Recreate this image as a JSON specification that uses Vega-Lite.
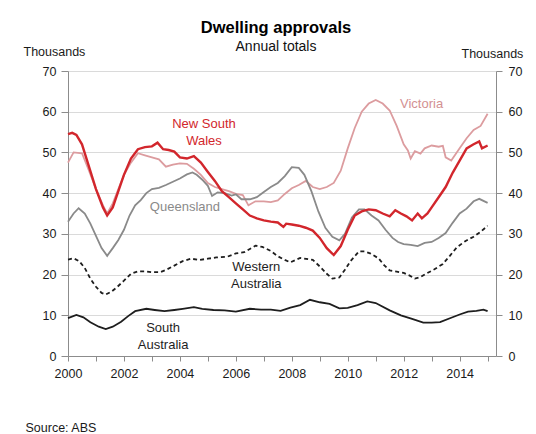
{
  "$schema": "https://vega.github.io/schema/vega-lite/v6.json",
  "width": 428,
  "height": 285,
  "autosize": {"type": "none"},
  "padding": {"left": 68, "top": 71, "right": 40, "bottom": 78},
  "background": "white",
  "title": {
    "text": "Dwelling approvals",
    "subtitle": "Annual totals",
    "anchor": "middle",
    "frame": "group",
    "dx": -6,
    "dy": 26,
    "offset": 17,
    "fontSize": 16.5,
    "fontWeight": "bold",
    "color": "#000000",
    "subtitleFontSize": 14,
    "subtitleColor": "#111111",
    "subtitlePadding": 4,
    "font": "Liberation Sans",
    "subtitleFont": "Liberation Sans"
  },
  "datasets": {
    "series": [
      {"s":"NSW","x":2000.0,"y":54.5},{"s":"NSW","x":2000.15,"y":54.8},{"s":"NSW","x":2000.3,"y":54.3},{"s":"NSW","x":2000.5,"y":52},{"s":"NSW","x":2000.75,"y":46.5},{"s":"NSW","x":2001.0,"y":41},{"s":"NSW","x":2001.25,"y":36.5},{"s":"NSW","x":2001.4,"y":34.5},{"s":"NSW","x":2001.6,"y":36.5},{"s":"NSW","x":2001.8,"y":40.5},{"s":"NSW","x":2002.0,"y":44.5},{"s":"NSW","x":2002.25,"y":48.5},{"s":"NSW","x":2002.5,"y":50.8},{"s":"NSW","x":2002.75,"y":51.3},{"s":"NSW","x":2003.0,"y":51.5},{"s":"NSW","x":2003.2,"y":52.4},{"s":"NSW","x":2003.4,"y":50.8},{"s":"NSW","x":2003.6,"y":50.6},{"s":"NSW","x":2003.8,"y":50.2},{"s":"NSW","x":2004.0,"y":48.8},{"s":"NSW","x":2004.25,"y":48.5},{"s":"NSW","x":2004.5,"y":49.1},{"s":"NSW","x":2004.75,"y":47.5},{"s":"NSW","x":2005.0,"y":45.2},{"s":"NSW","x":2005.25,"y":43},{"s":"NSW","x":2005.5,"y":40.5},{"s":"NSW","x":2005.75,"y":39},{"s":"NSW","x":2006.0,"y":37.5},{"s":"NSW","x":2006.25,"y":36},{"s":"NSW","x":2006.5,"y":34.5},{"s":"NSW","x":2006.75,"y":33.8},{"s":"NSW","x":2007.0,"y":33.3},{"s":"NSW","x":2007.25,"y":33},{"s":"NSW","x":2007.5,"y":32.8},{"s":"NSW","x":2007.7,"y":31.7},{"s":"NSW","x":2007.8,"y":32.5},{"s":"NSW","x":2008.0,"y":32.3},{"s":"NSW","x":2008.25,"y":32},{"s":"NSW","x":2008.5,"y":31.5},{"s":"NSW","x":2008.75,"y":30.8},{"s":"NSW","x":2009.0,"y":29},{"s":"NSW","x":2009.25,"y":26.5},{"s":"NSW","x":2009.5,"y":24.8},{"s":"NSW","x":2009.75,"y":27},{"s":"NSW","x":2010.0,"y":31},{"s":"NSW","x":2010.25,"y":34.5},{"s":"NSW","x":2010.5,"y":35.5},{"s":"NSW","x":2010.75,"y":36},{"s":"NSW","x":2011.0,"y":35.8},{"s":"NSW","x":2011.25,"y":35},{"s":"NSW","x":2011.5,"y":34.3},{"s":"NSW","x":2011.7,"y":35.8},{"s":"NSW","x":2011.9,"y":35},{"s":"NSW","x":2012.1,"y":34.3},{"s":"NSW","x":2012.3,"y":33.3},{"s":"NSW","x":2012.5,"y":35},{"s":"NSW","x":2012.65,"y":33.8},{"s":"NSW","x":2012.85,"y":35},{"s":"NSW","x":2013.0,"y":36.5},{"s":"NSW","x":2013.25,"y":39},{"s":"NSW","x":2013.5,"y":41.5},{"s":"NSW","x":2013.75,"y":45},{"s":"NSW","x":2014.0,"y":48},{"s":"NSW","x":2014.25,"y":51},{"s":"NSW","x":2014.5,"y":52},{"s":"NSW","x":2014.7,"y":52.7},{"s":"NSW","x":2014.8,"y":51},{"s":"NSW","x":2015.0,"y":51.7},
      {"s":"VIC","x":2000.0,"y":47.5},{"s":"VIC","x":2000.2,"y":50},{"s":"VIC","x":2000.5,"y":49.8},{"s":"VIC","x":2000.75,"y":45.5},{"s":"VIC","x":2001.0,"y":41},{"s":"VIC","x":2001.25,"y":37},{"s":"VIC","x":2001.4,"y":35},{"s":"VIC","x":2001.6,"y":37.5},{"s":"VIC","x":2001.8,"y":41},{"s":"VIC","x":2002.0,"y":44.5},{"s":"VIC","x":2002.25,"y":47.5},{"s":"VIC","x":2002.5,"y":49.8},{"s":"VIC","x":2002.75,"y":49.3},{"s":"VIC","x":2003.0,"y":48.8},{"s":"VIC","x":2003.25,"y":48.3},{"s":"VIC","x":2003.5,"y":46.5},{"s":"VIC","x":2003.75,"y":47},{"s":"VIC","x":2004.0,"y":47.3},{"s":"VIC","x":2004.25,"y":47.2},{"s":"VIC","x":2004.5,"y":46},{"s":"VIC","x":2004.75,"y":44.5},{"s":"VIC","x":2005.0,"y":42.5},{"s":"VIC","x":2005.25,"y":41.5},{"s":"VIC","x":2005.5,"y":41},{"s":"VIC","x":2005.75,"y":40.5},{"s":"VIC","x":2006.0,"y":39.8},{"s":"VIC","x":2006.25,"y":39.5},{"s":"VIC","x":2006.45,"y":37},{"s":"VIC","x":2006.7,"y":38},{"s":"VIC","x":2007.0,"y":38},{"s":"VIC","x":2007.25,"y":37.8},{"s":"VIC","x":2007.5,"y":38.2},{"s":"VIC","x":2007.75,"y":39.8},{"s":"VIC","x":2008.0,"y":41.2},{"s":"VIC","x":2008.25,"y":42},{"s":"VIC","x":2008.5,"y":43},{"s":"VIC","x":2008.75,"y":41.5},{"s":"VIC","x":2009.0,"y":41},{"s":"VIC","x":2009.25,"y":41.5},{"s":"VIC","x":2009.5,"y":42.5},{"s":"VIC","x":2009.75,"y":45.5},{"s":"VIC","x":2010.0,"y":51},{"s":"VIC","x":2010.25,"y":56},{"s":"VIC","x":2010.5,"y":60},{"s":"VIC","x":2010.75,"y":62},{"s":"VIC","x":2011.0,"y":62.9},{"s":"VIC","x":2011.25,"y":62},{"s":"VIC","x":2011.5,"y":60.3},{"s":"VIC","x":2011.75,"y":56.5},{"s":"VIC","x":2012.0,"y":52},{"s":"VIC","x":2012.15,"y":50.5},{"s":"VIC","x":2012.25,"y":48.5},{"s":"VIC","x":2012.4,"y":50.3},{"s":"VIC","x":2012.6,"y":49.7},{"s":"VIC","x":2012.75,"y":51},{"s":"VIC","x":2013.0,"y":51.7},{"s":"VIC","x":2013.25,"y":51.4},{"s":"VIC","x":2013.4,"y":51.6},{"s":"VIC","x":2013.5,"y":48.8},{"s":"VIC","x":2013.7,"y":48},{"s":"VIC","x":2014.0,"y":51},{"s":"VIC","x":2014.25,"y":53.5},{"s":"VIC","x":2014.5,"y":55.5},{"s":"VIC","x":2014.75,"y":56.5},{"s":"VIC","x":2015.0,"y":59.5},
      {"s":"QLD","x":2000.0,"y":33},{"s":"QLD","x":2000.2,"y":35},{"s":"QLD","x":2000.38,"y":36.3},{"s":"QLD","x":2000.6,"y":35},{"s":"QLD","x":2000.8,"y":32.5},{"s":"QLD","x":2001.0,"y":29.5},{"s":"QLD","x":2001.2,"y":26.5},{"s":"QLD","x":2001.4,"y":24.6},{"s":"QLD","x":2001.6,"y":26.5},{"s":"QLD","x":2001.8,"y":28.5},{"s":"QLD","x":2002.0,"y":31},{"s":"QLD","x":2002.2,"y":34.5},{"s":"QLD","x":2002.4,"y":37},{"s":"QLD","x":2002.6,"y":38.3},{"s":"QLD","x":2002.8,"y":40},{"s":"QLD","x":2003.0,"y":41},{"s":"QLD","x":2003.25,"y":41.3},{"s":"QLD","x":2003.5,"y":42},{"s":"QLD","x":2003.75,"y":42.8},{"s":"QLD","x":2004.0,"y":43.6},{"s":"QLD","x":2004.25,"y":44.6},{"s":"QLD","x":2004.45,"y":45.1},{"s":"QLD","x":2004.6,"y":44.5},{"s":"QLD","x":2004.8,"y":43.3},{"s":"QLD","x":2005.0,"y":41.8},{"s":"QLD","x":2005.15,"y":39.3},{"s":"QLD","x":2005.35,"y":40.2},{"s":"QLD","x":2005.6,"y":40},{"s":"QLD","x":2005.85,"y":39.4},{"s":"QLD","x":2006.0,"y":39.7},{"s":"QLD","x":2006.2,"y":38.5},{"s":"QLD","x":2006.5,"y":38.5},{"s":"QLD","x":2006.75,"y":39},{"s":"QLD","x":2007.0,"y":40.3},{"s":"QLD","x":2007.25,"y":41.5},{"s":"QLD","x":2007.5,"y":42.5},{"s":"QLD","x":2007.75,"y":44.2},{"s":"QLD","x":2008.0,"y":46.4},{"s":"QLD","x":2008.25,"y":46.2},{"s":"QLD","x":2008.45,"y":44.5},{"s":"QLD","x":2008.7,"y":40.5},{"s":"QLD","x":2008.95,"y":35.5},{"s":"QLD","x":2009.2,"y":31.5},{"s":"QLD","x":2009.45,"y":29.3},{"s":"QLD","x":2009.7,"y":28.4},{"s":"QLD","x":2009.9,"y":30},{"s":"QLD","x":2010.15,"y":34},{"s":"QLD","x":2010.4,"y":36},{"s":"QLD","x":2010.6,"y":36},{"s":"QLD","x":2010.85,"y":34.5},{"s":"QLD","x":2011.1,"y":33.3},{"s":"QLD","x":2011.35,"y":31},{"s":"QLD","x":2011.6,"y":29},{"s":"QLD","x":2011.8,"y":28},{"s":"QLD","x":2012.0,"y":27.5},{"s":"QLD","x":2012.25,"y":27.3},{"s":"QLD","x":2012.5,"y":27},{"s":"QLD","x":2012.75,"y":27.8},{"s":"QLD","x":2013.0,"y":28},{"s":"QLD","x":2013.25,"y":29},{"s":"QLD","x":2013.5,"y":30.2},{"s":"QLD","x":2013.75,"y":32.7},{"s":"QLD","x":2014.0,"y":35},{"s":"QLD","x":2014.25,"y":36.2},{"s":"QLD","x":2014.5,"y":38},{"s":"QLD","x":2014.7,"y":38.6},{"s":"QLD","x":2015.0,"y":37.6},
      {"s":"WA","x":2000.0,"y":23.7},{"s":"WA","x":2000.2,"y":24},{"s":"WA","x":2000.4,"y":23.3},{"s":"WA","x":2000.6,"y":21.6},{"s":"WA","x":2000.8,"y":19},{"s":"WA","x":2001.0,"y":17},{"s":"WA","x":2001.2,"y":15.5},{"s":"WA","x":2001.35,"y":15.1},{"s":"WA","x":2001.55,"y":15.8},{"s":"WA","x":2001.75,"y":16.9},{"s":"WA","x":2002.0,"y":18.5},{"s":"WA","x":2002.25,"y":20.2},{"s":"WA","x":2002.5,"y":20.8},{"s":"WA","x":2002.75,"y":20.8},{"s":"WA","x":2003.0,"y":20.6},{"s":"WA","x":2003.3,"y":20.6},{"s":"WA","x":2003.55,"y":21.3},{"s":"WA","x":2003.8,"y":22.2},{"s":"WA","x":2004.1,"y":23.3},{"s":"WA","x":2004.4,"y":23.9},{"s":"WA","x":2004.7,"y":23.6},{"s":"WA","x":2005.0,"y":23.9},{"s":"WA","x":2005.3,"y":24.2},{"s":"WA","x":2005.7,"y":24.4},{"s":"WA","x":2006.0,"y":25.2},{"s":"WA","x":2006.3,"y":25.5},{"s":"WA","x":2006.5,"y":26.3},{"s":"WA","x":2006.7,"y":27.1},{"s":"WA","x":2006.95,"y":26.8},{"s":"WA","x":2007.25,"y":25.8},{"s":"WA","x":2007.5,"y":24.5},{"s":"WA","x":2007.75,"y":23.6},{"s":"WA","x":2007.95,"y":23},{"s":"WA","x":2008.3,"y":24.1},{"s":"WA","x":2008.75,"y":23.6},{"s":"WA","x":2009.0,"y":22},{"s":"WA","x":2009.25,"y":20.2},{"s":"WA","x":2009.45,"y":19},{"s":"WA","x":2009.7,"y":19.3},{"s":"WA","x":2009.9,"y":21.2},{"s":"WA","x":2010.1,"y":23.3},{"s":"WA","x":2010.4,"y":25.7},{"s":"WA","x":2010.6,"y":25.7},{"s":"WA","x":2010.8,"y":25.2},{"s":"WA","x":2011.1,"y":24},{"s":"WA","x":2011.3,"y":22.3},{"s":"WA","x":2011.5,"y":21},{"s":"WA","x":2011.75,"y":20.7},{"s":"WA","x":2012.0,"y":20.4},{"s":"WA","x":2012.2,"y":19.8},{"s":"WA","x":2012.4,"y":19},{"s":"WA","x":2012.6,"y":19.4},{"s":"WA","x":2012.8,"y":20.2},{"s":"WA","x":2013.1,"y":21.3},{"s":"WA","x":2013.4,"y":22.6},{"s":"WA","x":2013.65,"y":24.6},{"s":"WA","x":2013.9,"y":26.7},{"s":"WA","x":2014.2,"y":28.2},{"s":"WA","x":2014.5,"y":29.3},{"s":"WA","x":2014.75,"y":30.5},{"s":"WA","x":2015.0,"y":32},
      {"s":"SA","x":2000.0,"y":9.3},{"s":"SA","x":2000.3,"y":10.1},{"s":"SA","x":2000.55,"y":9.5},{"s":"SA","x":2000.8,"y":8.3},{"s":"SA","x":2001.1,"y":7.2},{"s":"SA","x":2001.35,"y":6.6},{"s":"SA","x":2001.6,"y":7.2},{"s":"SA","x":2001.9,"y":8.4},{"s":"SA","x":2002.15,"y":9.8},{"s":"SA","x":2002.4,"y":11},{"s":"SA","x":2002.8,"y":11.6},{"s":"SA","x":2003.1,"y":11.3},{"s":"SA","x":2003.45,"y":11},{"s":"SA","x":2003.8,"y":11.3},{"s":"SA","x":2004.1,"y":11.6},{"s":"SA","x":2004.5,"y":12},{"s":"SA","x":2004.8,"y":11.6},{"s":"SA","x":2005.2,"y":11.3},{"s":"SA","x":2005.6,"y":11.2},{"s":"SA","x":2006.0,"y":10.9},{"s":"SA","x":2006.5,"y":11.6},{"s":"SA","x":2006.9,"y":11.4},{"s":"SA","x":2007.25,"y":11.4},{"s":"SA","x":2007.6,"y":11.1},{"s":"SA","x":2007.95,"y":11.9},{"s":"SA","x":2008.3,"y":12.5},{"s":"SA","x":2008.65,"y":13.8},{"s":"SA","x":2009.0,"y":13.2},{"s":"SA","x":2009.35,"y":12.8},{"s":"SA","x":2009.7,"y":11.7},{"s":"SA","x":2010.0,"y":11.8},{"s":"SA","x":2010.35,"y":12.5},{"s":"SA","x":2010.7,"y":13.4},{"s":"SA","x":2011.0,"y":13},{"s":"SA","x":2011.5,"y":11.2},{"s":"SA","x":2011.9,"y":10},{"s":"SA","x":2012.3,"y":9.1},{"s":"SA","x":2012.7,"y":8.2},{"s":"SA","x":2013.0,"y":8.2},{"s":"SA","x":2013.3,"y":8.3},{"s":"SA","x":2013.7,"y":9.4},{"s":"SA","x":2014.0,"y":10.2},{"s":"SA","x":2014.3,"y":10.9},{"s":"SA","x":2014.6,"y":11.1},{"s":"SA","x":2014.85,"y":11.4},{"s":"SA","x":2015.0,"y":11}
    ],
    "labels": [
      {"s":"NSW","label":"New South\nWales","x":2004.86,"y":57.1},
      {"s":"VIC","label":"Victoria","x":2012.64,"y":62.0},
      {"s":"QLD","label":"Queensland","x":2004.18,"y":36.6},
      {"s":"WA","label":"Western\nAustralia","x":2006.73,"y":21.8},
      {"s":"SA","label":"South\nAustralia","x":2003.4,"y":7.0}
    ]
  },
  "data": {"name": "series"},
  "encoding": {
    "x": {
      "field": "x",
      "type": "quantitative",
      "scale": {"domain": [2000, 2015.3], "nice": false, "zero": false},
      "axis": {
        "values": [2000,2001,2002,2003,2004,2005,2006,2007,2008,2009,2010,2011,2012,2013,2014,2015],
        "labelExpr": "datum.value % 2 == 0 ? format(datum.value, 'd') : ''",
        "labelFlush": false,
        "grid": false,
        "domainColor": "#8c8c8c",
        "tickColor": "#8c8c8c",
        "tickSize": 5,
        "labelPadding": 6,
        "labelFontSize": 12.5,
        "labelColor": "#1a1a1a",
        "labelFont": "Liberation Sans",
        "title": "Source: ABS",
        "titleFont": "Liberation Sans",
        "titleFontSize": 12.5,
        "titleFontWeight": "normal",
        "titleColor": "#1a1a1a",
        "titleAlign": "left",
        "titleBaseline": "alphabetic",
        "titleAngle": 0,
        "titleX": -43,
        "titleY": 75
      }
    }
  },
  "layer": [
    {
      "transform": [{"filter": "datum.s == 'VIC'"}],
      "mark": {"type": "line", "color": "#dc9c9f", "strokeWidth": 1.8},
      "encoding": {
        "y": {
          "field": "y", "type": "quantitative",
          "scale": {"domain": [0, 70], "nice": false},
          "axis": {
            "orient": "left",
            "values": [0,10,20,30,40,50,60,70],
            "grid": true,
            "gridColor": "#dadada",
            "gridWidth": 1,
            "domainColor": "#8c8c8c",
            "tickColor": "#8c8c8c",
            "tickSize": 7,
            "labelPadding": 5,
            "labelFontSize": 12.5,
            "labelColor": "#1a1a1a",
            "labelFont": "Liberation Sans",
            "title": "Thousands",
            "titleFont": "Liberation Sans",
            "titleFontSize": 12.5,
            "titleFontWeight": "normal",
            "titleColor": "#1a1a1a",
            "titleAngle": 0,
            "titleAlign": "left",
            "titleBaseline": "alphabetic",
            "titleX": -45,
            "titleY": -16
          }
        }
      }
    },
    {
      "transform": [{"filter": "datum.s == 'QLD'"}],
      "mark": {"type": "line", "color": "#8a8a8a", "strokeWidth": 1.8},
      "encoding": {"y": {"field": "y", "type": "quantitative", "axis": null}}
    },
    {
      "transform": [{"filter": "datum.s == 'WA'"}],
      "mark": {"type": "line", "color": "#1e1e1e", "strokeWidth": 1.8, "strokeDash": [4, 3]},
      "encoding": {"y": {"field": "y", "type": "quantitative", "axis": null}}
    },
    {
      "transform": [{"filter": "datum.s == 'SA'"}],
      "mark": {"type": "line", "color": "#1e1e1e", "strokeWidth": 1.8},
      "encoding": {"y": {"field": "y", "type": "quantitative", "axis": null}}
    },
    {
      "transform": [{"filter": "datum.s == 'NSW'"}],
      "mark": {"type": "line", "color": "#d2262c", "strokeWidth": 2.4},
      "encoding": {
        "y": {
          "field": "y", "type": "quantitative",
          "axis": {
            "orient": "right",
            "values": [0,10,20,30,40,50,60,70],
            "grid": false,
            "domainColor": "#8c8c8c",
            "tickColor": "#8c8c8c",
            "tickSize": 6,
            "labelPadding": 6,
            "labelFontSize": 12.5,
            "labelColor": "#1a1a1a",
            "labelFont": "Liberation Sans",
            "title": "Thousands",
            "titleFont": "Liberation Sans",
            "titleFontSize": 12.5,
            "titleFontWeight": "normal",
            "titleColor": "#1a1a1a",
            "titleAngle": 0,
            "titleAlign": "left",
            "titleBaseline": "alphabetic",
            "titleX": -35,
            "titleY": -14
          }
        }
      }
    },
    {
      "data": {"name": "labels"},
      "mark": {"type": "text", "font": "Liberation Sans", "fontSize": 13, "lineBreak": "\n", "lineHeight": 17, "align": "center", "baseline": "middle"},
      "encoding": {
        "y": {"field": "y", "type": "quantitative", "axis": null},
        "text": {"field": "label"},
        "color": {
          "field": "s", "type": "nominal", "legend": null,
          "scale": {"domain": ["NSW","VIC","QLD","WA","SA"], "range": ["#d2262c","#d39092","#8a8a8a","#1e1e1e","#1e1e1e"]}
        }
      }
    }
  ],
  "resolve": {"axis": {"y": "independent"}},
  "config": {
    "font": "Liberation Sans",
    "view": {"stroke": null}
  }
}
